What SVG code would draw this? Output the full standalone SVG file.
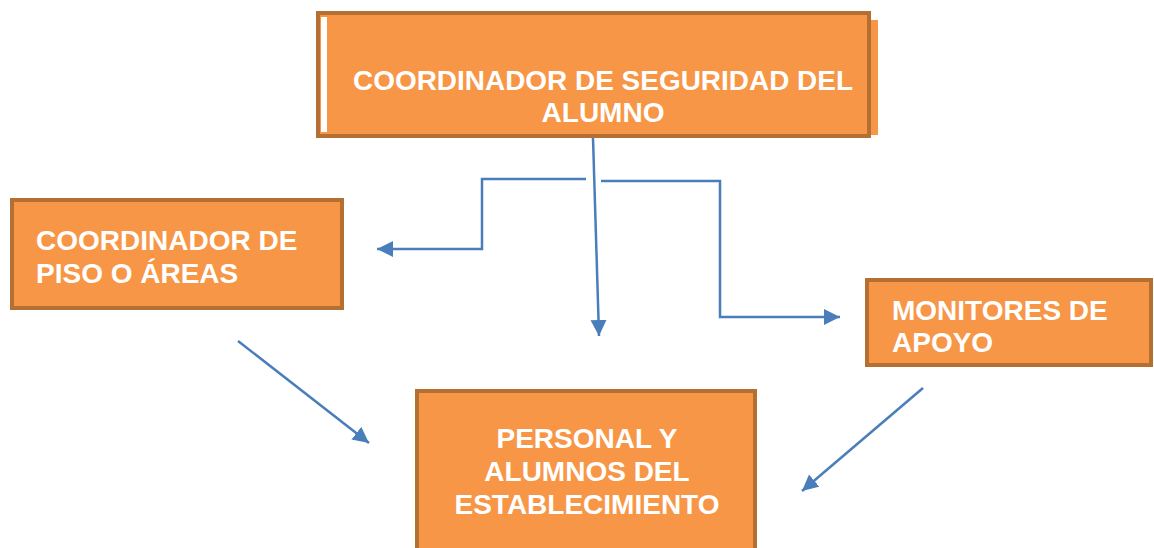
<svg xmlns="http://www.w3.org/2000/svg" width="1154" height="548" viewBox="0 0 1154 548">
<style>
.box{fill:#F79646;stroke:#B46F33;stroke-width:4}
.t{font-family:"Liberation Sans",Arial,sans-serif;font-weight:bold;font-size:28px;fill:#FFFFFF}
.c{fill:none;stroke:#4A7EBB;stroke-width:2.5}
</style>
<defs>
<marker id="ah" markerUnits="userSpaceOnUse" markerWidth="17" markerHeight="17" refX="16" refY="8.5" orient="auto">
<path d="M0,0.5 L16,8.5 L0,16.5 z" fill="#4A7EBB"/>
</marker>
</defs>
<rect width="1154" height="548" fill="#FFFFFF"/>
<g id="top">
<rect x="322" y="20" width="556" height="115" fill="#F79646"/>
<rect class="box" x="318" y="13" width="551" height="123"/>
<rect x="321" y="17" width="6" height="115" fill="#FFFFFF"/>
<text class="t" x="603" y="90" text-anchor="middle" textLength="500" lengthAdjust="spacingAndGlyphs">COORDINADOR DE SEGURIDAD DEL</text>
<text class="t" x="603" y="122" text-anchor="middle">ALUMNO</text>
</g>
<g id="left">
<rect class="box" x="12" y="200" width="330" height="108"/>
<text class="t" x="36" y="250">COORDINADOR DE</text>
<text class="t" x="36" y="283">PISO O ÁREAS</text>
</g>
<g id="right">
<rect class="box" x="867" y="280" width="284" height="85"/>
<text class="t" x="892" y="320">MONITORES DE</text>
<text class="t" x="892" y="352">APOYO</text>
</g>
<g id="bottom">
<rect class="box" x="417" y="391" width="338" height="175"/>
<text class="t" x="587" y="448" text-anchor="middle">PERSONAL Y</text>
<text class="t" x="587" y="481" text-anchor="middle">ALUMNOS DEL</text>
<text class="t" x="587" y="514" text-anchor="middle">ESTABLECIMIENTO</text>
</g>
<g id="connectors">
<path class="c" d="M593,138 L599,336" marker-end="url(#ah)"/>
<path class="c" d="M586,179 L482,179 L482,249 L377,249" marker-end="url(#ah)"/>
<path class="c" d="M601,181 L720,181 L720,317 L840,317" marker-end="url(#ah)"/>
<path class="c" d="M238,341 L369,443" marker-end="url(#ah)"/>
<path class="c" d="M923,388 L802,491" marker-end="url(#ah)"/>
</g>
</svg>
